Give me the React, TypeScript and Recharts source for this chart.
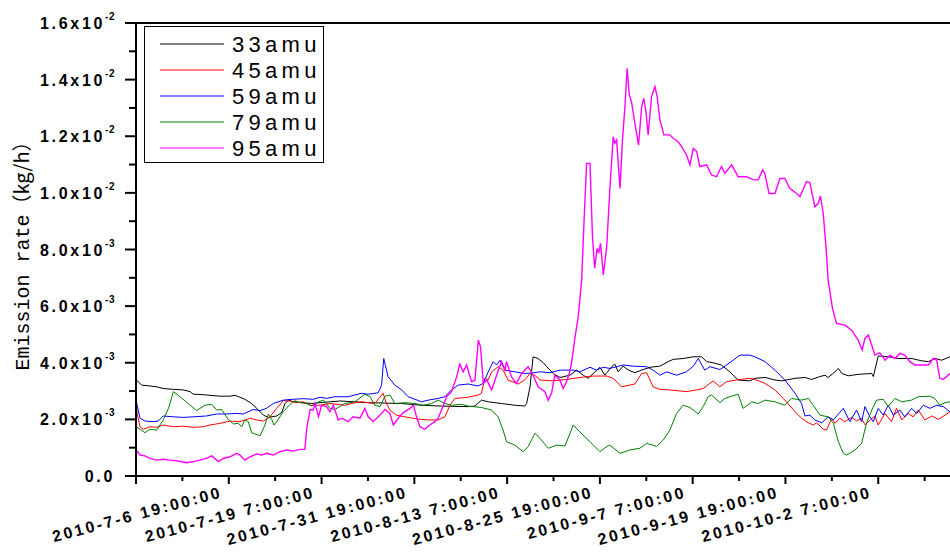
import React from 'react';
import { LineChart, Line, XAxis, YAxis, ReferenceLine } from 'recharts';

// x: hours since 2010-7-6 19:00:00 ; y: emission rate in units of 1e-3 kg/h
const xMajorHours = [0, 300, 600, 900, 1200, 1500, 1800, 2100, 2400];
const xLabels = [
  '2010-7-6 19:00:00',
  '2010-7-19 7:00:00',
  '2010-7-31 19:00:00',
  '2010-8-13 7:00:00',
  '2010-8-25 19:00:00',
  '2010-9-7 7:00:00',
  '2010-9-19 19:00:00',
  '2010-10-2 7:00:00',
  '',
];
const xTicks = [0, 150, 300, 450, 600, 750, 900, 1050, 1200, 1350, 1500, 1650, 1800, 1950, 2100, 2250, 2400, 2550];
const yTicksE3 = [0, 1, 2, 3, 4, 5, 6, 7, 8, 9, 10, 11, 12, 13, 14, 15, 16];
const yMantissa = ['0.0', '', '2.0', '', '4.0', '', '6.0', '', '8.0', '', '1.0', '', '1.2', '', '1.4', '', '1.6'];
const yExponent = ['', '', '-3', '', '-3', '', '-3', '', '-3', '', '-2', '', '-2', '', '-2', '', '-2'];

const seriesNames = ['33amu', '45amu', '59amu', '79amu', '95amu'];
const seriesColors = ['#000000', '#ff0000', '#0000ff', '#008000', '#ff00ff'];

const s33: [number, number][] = [
  [0,3.41],[18,3.21],[45,3.18],[67,3.15],[88,3.09],[121,3.06],[153,3.04],[175,2.98],[185,2.89],[207,2.88],[239,2.85],[272,2.82],[304,2.82],[320,2.85],[336,2.78],[352,2.71],[374,2.56],[396,2.33],[412,2.15],[428,2.07],[455,2.12],[471,2.24],[482,2.56],[493,2.68],[509,2.62],[541,2.59],[568,2.56],[595,2.59],[627,2.62],[660,2.65],[751,2.59],[859,2.56],[923,2.50],[988,2.47],[1074,2.45],[1096,2.47],[1117,2.68],[1139,2.62],[1182,2.56],[1225,2.50],[1257,2.47],[1263,2.56],[1274,3.15],[1284,4.21],[1300,4.15],[1317,4.00],[1328,3.86],[1349,3.62],[1371,3.48],[1403,3.56],[1425,3.74],[1446,3.56],[1462,3.45],[1484,3.68],[1500,3.84],[1516,3.56],[1538,3.86],[1548,3.95],[1559,3.68],[1575,3.88],[1592,3.74],[1613,3.65],[1635,3.74],[1662,3.84],[1694,3.88],[1721,4.04],[1737,4.12],[1769,4.15],[1802,4.21],[1829,4.21],[1845,4.04],[1866,4.00],[1893,3.92],[1920,3.68],[1947,3.39],[1985,3.36],[2001,3.45],[2034,3.48],[2066,3.39],[2088,3.36],[2131,3.45],[2163,3.48],[2185,3.41],[2211,3.51],[2228,3.56],[2238,3.48],[2260,3.68],[2271,3.80],[2282,3.62],[2303,3.54],[2335,3.59],[2379,3.62],[2384,3.51],[2400,4.24],[2432,4.21],[2465,4.15],[2508,4.15],[2540,4.07],[2562,4.04],[2583,4.15],[2605,4.09],[2632,4.21],
];

const s45: [number, number][] = [
  [0,2.56],[4,2.2],[13,1.74],[24,1.65],[45,1.74],[67,1.72],[88,1.80],[121,1.74],[153,1.76],[185,1.72],[218,1.74],[239,1.80],[272,1.86],[304,1.94],[336,1.92],[369,2.04],[390,1.98],[412,1.94],[433,2.09],[455,2.39],[476,2.66],[498,2.65],[519,2.59],[541,2.62],[563,2.50],[595,2.50],[627,2.56],[675,2.50],[708,2.59],[729,2.62],[772,2.56],[799,2.92],[810,2.56],[821,2.33],[842,2.15],[869,2.09],[912,2.01],[945,1.98],[977,1.98],[999,2.09],[1015,2.50],[1031,2.74],[1074,2.78],[1106,2.86],[1117,2.92],[1128,3.45],[1139,3.39],[1150,3.68],[1171,3.86],[1187,3.74],[1203,3.39],[1236,3.25],[1257,3.39],[1274,3.62],[1290,3.55],[1306,3.39],[1349,3.36],[1392,3.41],[1435,3.48],[1478,3.53],[1522,3.53],[1543,3.45],[1570,3.15],[1597,3.21],[1613,3.25],[1635,3.62],[1651,3.65],[1672,3.15],[1694,3.06],[1726,3.04],[1780,2.98],[1812,3.04],[1834,3.09],[1866,3.36],[1888,3.15],[1909,3.33],[1953,3.41],[1985,3.45],[2001,3.41],[2034,3.27],[2066,3.04],[2098,2.68],[2131,2.27],[2152,2.04],[2174,1.88],[2190,1.80],[2201,1.88],[2222,1.65],[2233,1.62],[2249,2.04],[2260,1.86],[2276,2.04],[2292,1.92],[2314,2.07],[2330,1.95],[2346,2.04],[2357,1.81],[2389,2.12],[2400,1.80],[2422,2.21],[2443,1.92],[2459,2.39],[2476,1.98],[2497,2.21],[2513,2.09],[2529,2.33],[2551,1.98],[2573,2.12],[2594,2.00],[2616,2.15],[2632,2.27],
];

const s59: [number, number][] = [
  [0,2.68],[13,2.04],[29,1.94],[56,1.92],[72,1.94],[88,2.12],[121,2.09],[153,2.07],[185,2.09],[228,2.12],[261,2.19],[293,2.19],[325,2.21],[347,2.19],[379,2.35],[401,2.31],[422,2.39],[444,2.56],[476,2.68],[509,2.71],[541,2.73],[573,2.71],[595,2.78],[616,2.74],[643,2.80],[686,2.80],[729,2.92],[751,2.89],[783,2.94],[794,3.2],[801,4.15],[815,3.51],[837,3.21],[859,3.04],[880,2.80],[902,2.71],[923,2.62],[945,2.68],[977,2.74],[999,2.80],[1020,3.04],[1042,3.21],[1074,3.25],[1106,3.18],[1123,3.27],[1139,3.68],[1155,4.04],[1166,3.92],[1177,4.09],[1193,3.74],[1225,3.68],[1257,3.62],[1290,3.65],[1306,3.68],[1338,3.65],[1371,3.74],[1414,3.74],[1435,3.68],[1468,3.84],[1489,3.74],[1511,3.84],[1532,3.80],[1575,3.92],[1608,3.88],[1651,3.86],[1672,3.74],[1694,3.56],[1716,3.68],[1748,3.56],[1780,3.68],[1802,3.88],[1818,4.15],[1839,3.74],[1856,3.86],[1888,3.76],[1909,3.92],[1931,4.09],[1953,4.27],[1985,4.27],[2001,4.21],[2034,4.04],[2066,3.74],[2098,3.39],[2131,2.92],[2152,2.56],[2163,2.12],[2179,2.15],[2195,1.98],[2217,1.88],[2238,2.09],[2255,1.98],[2287,2.39],[2308,1.92],[2330,2.33],[2346,1.92],[2357,2.45],[2373,2.09],[2384,1.92],[2400,2.39],[2416,2.15],[2432,2.50],[2449,2.15],[2470,2.33],[2486,2.09],[2508,2.39],[2524,2.21],[2546,2.50],[2567,2.39],[2589,2.50],[2610,2.45],[2632,2.27],
];

const s79: [number, number][] = [
  [0,1.74],[13,1.65],[29,1.53],[45,1.65],[67,1.62],[88,1.98],[105,2.39],[121,2.98],[142,2.80],[169,2.56],[196,2.31],[223,2.50],[245,2.53],[261,2.33],[277,2.35],[299,1.98],[315,1.84],[331,1.86],[342,1.74],[352,1.98],[363,1.92],[374,1.53],[396,1.44],[401,1.42],[417,1.80],[428,2.19],[439,2.00],[446,1.80],[455,1.92],[476,2.27],[498,2.53],[514,2.66],[530,2.59],[552,2.56],[568,2.47],[590,2.62],[606,2.68],[627,2.39],[643,2.35],[675,2.56],[708,2.62],[740,2.89],[757,2.80],[772,2.50],[789,2.45],[805,2.82],[821,2.86],[837,2.56],[869,2.59],[902,2.56],[929,2.50],[956,2.56],[977,2.68],[999,2.56],[1020,2.50],[1053,2.53],[1074,2.47],[1117,2.42],[1150,2.33],[1171,2.09],[1187,1.62],[1198,1.21],[1225,1.09],[1252,0.86],[1268,1.04],[1290,1.51],[1306,1.33],[1333,0.98],[1360,1.09],[1387,1.06],[1414,1.80],[1435,1.56],[1468,1.21],[1500,0.86],[1522,1.04],[1532,1.09],[1565,0.80],[1597,0.92],[1629,0.98],[1651,1.15],[1672,1.09],[1683,1.04],[1705,1.27],[1726,1.62],[1748,2.21],[1769,2.50],[1791,2.42],[1818,2.19],[1834,2.45],[1850,2.80],[1861,2.86],[1888,2.59],[1904,2.74],[1926,2.82],[1947,2.89],[1963,2.39],[1985,2.56],[1991,2.62],[2012,2.56],[2034,2.68],[2066,2.62],[2098,2.50],[2120,2.74],[2152,2.68],[2174,2.74],[2190,2.50],[2211,2.15],[2238,2.09],[2255,1.86],[2271,1.21],[2287,0.80],[2298,0.74],[2325,0.92],[2346,1.15],[2362,1.86],[2379,2.33],[2395,2.68],[2416,2.71],[2432,2.45],[2454,2.74],[2476,2.62],[2508,2.68],[2529,2.80],[2567,2.82],[2583,2.74],[2599,2.50],[2616,2.59],[2632,2.62],
];

const s95: [number, number][] = [
  [0,0.92],[13,0.74],[29,0.71],[45,0.62],[67,0.56],[88,0.59],[110,0.56],[131,0.54],[164,0.47],[185,0.51],[207,0.56],[228,0.62],[245,0.71],[255,0.62],[266,0.51],[282,0.62],[304,0.68],[325,0.80],[336,0.74],[352,0.56],[369,0.68],[390,0.78],[406,0.74],[422,0.80],[444,0.74],[466,0.86],[487,0.92],[509,0.88],[530,0.94],[546,0.94],[552,1.68],[563,2.35],[573,2.33],[579,2.56],[590,2.09],[600,2.50],[616,2.45],[627,2.27],[638,2.50],[654,1.98],[665,2.04],[686,1.92],[702,2.09],[724,2.04],[740,2.39],[751,2.09],[767,1.92],[789,2.15],[805,2.35],[821,2.21],[832,1.80],[848,2.04],[864,2.24],[886,2.39],[897,2.50],[907,2.09],[918,1.74],[934,1.65],[950,1.80],[967,1.92],[977,2.04],[994,2.50],[1004,2.80],[1020,2.98],[1037,3.51],[1047,3.95],[1058,3.68],[1069,3.92],[1085,3.33],[1096,3.39],[1107,4.80],[1114,4.56],[1123,3.27],[1134,3.39],[1150,3.04],[1166,3.56],[1182,4.04],[1193,3.74],[1198,4.04],[1214,3.51],[1230,3.27],[1247,3.62],[1268,3.86],[1284,3.56],[1300,3.15],[1322,2.98],[1333,2.68],[1344,2.94],[1354,3.56],[1371,3.39],[1381,3.09],[1392,3.33],[1401,3.62],[1408,3.98],[1419,4.86],[1430,5.63],[1441,6.92],[1448,8.81],[1457,11.04],[1468,11.04],[1476,8.45],[1483,7.34],[1491,8.04],[1496,7.87],[1502,8.22],[1511,7.10],[1522,8.10],[1532,10.10],[1543,11.99],[1548,11.75],[1554,11.87],[1565,10.16],[1573,11.87],[1581,13.05],[1588,14.40],[1595,13.46],[1602,13.22],[1613,12.46],[1625,11.69],[1635,13.05],[1642,13.34],[1649,12.87],[1656,12.05],[1667,13.40],[1678,13.75],[1685,13.40],[1694,12.58],[1707,12.05],[1726,12.05],[1737,11.93],[1753,11.81],[1764,11.63],[1780,11.34],[1791,10.99],[1802,11.57],[1813,11.46],[1823,10.93],[1845,10.99],[1861,10.63],[1877,10.57],[1893,10.93],[1904,10.69],[1926,10.99],[1947,10.57],[1974,10.57],[1996,10.46],[2012,10.46],[2026,10.81],[2033,10.69],[2047,9.98],[2066,9.98],[2082,10.51],[2098,10.51],[2114,10.16],[2136,9.98],[2147,9.87],[2168,10.40],[2179,10.36],[2195,9.51],[2206,9.63],[2213,9.89],[2222,9.28],[2231,8.10],[2238,6.92],[2252,5.92],[2265,5.39],[2292,5.33],[2314,5.15],[2335,4.80],[2348,4.45],[2357,4.86],[2368,4.98],[2379,4.62],[2389,4.27],[2405,4.35],[2422,4.09],[2438,4.27],[2454,4.15],[2470,4.33],[2486,4.27],[2502,4.04],[2519,3.92],[2540,3.92],[2562,3.92],[2578,4.15],[2589,4.09],[2599,3.45],[2610,3.41],[2632,3.62],
];

const toData = (s: [number, number][]) => s.map(([h, v]) => ({ h, v: v / 1000 }));
const seriesData = [s33, s45, s59, s79, s95].map(toData);

const XTick = (props: any) => {
  const { x, y, payload } = props;
  const h = payload.value as number;
  const idx = xMajorHours.indexOf(h);
  const major = idx >= 0;
  const label = major ? xLabels[idx] : '';
  const ax = x + 87;
  const ay = y + 21;
  return (
    <g>
      <line x1={x} y1={y} x2={x} y2={y + (major ? 8 : 5)} stroke="#000" strokeWidth={2} />
      {label ? (
        <text
          x={ax}
          y={ay}
          textAnchor="end"
          transform={`rotate(-15, ${ax}, ${ay})`}
          fontFamily="Liberation Sans, Arial, sans-serif"
          fontWeight="bold"
          fontSize={16}
          letterSpacing={2.5}
          fill="#000"
        >
          {label}
        </text>
      ) : null}
    </g>
  );
};

const YTick = (props: any) => {
  const { x, y, payload } = props;
  const k = Math.round((payload.value as number) * 1000);
  const idx = yTicksE3.indexOf(k);
  const major = idx % 2 === 0;
  const m = yMantissa[idx] || '';
  const e = yExponent[idx] || '';
  return (
    <g>
      <line x1={x - (major ? 11 : 7)} y1={y} x2={x} y2={y} stroke="#000" strokeWidth={2} />
      {m ? (
        <text
          x={x - 21}
          y={y + 6}
          textAnchor="end"
          fontFamily="Liberation Sans, Arial, sans-serif"
          fontWeight="bold"
          fontSize={16}
          letterSpacing={2.7}
          fill="#000"
        >
          {m}
          {e ? 'x10' : ''}
          {e ? (
            <tspan dy={-9} fontSize={10} letterSpacing={0.5}>
              {e}
            </tspan>
          ) : null}
        </text>
      ) : null}
    </g>
  );
};

export default function App() {
  return (
    <div style={{ position: 'fixed', left: 0, top: 0, width: 950, height: 553, overflow: 'hidden', background: '#fff' }}>
      <LineChart width={950} height={553} margin={{ top: 23, right: 0, left: 0, bottom: 17 }}>
        <XAxis
          dataKey="h"
          type="number"
          domain={[0, 2632]}
          allowDataOverflow
          ticks={xTicks}
          interval={0}
          tick={XTick}
          tickLine={false}
          tickSize={0}
          tickMargin={0}
          axisLine={{ stroke: '#000', strokeWidth: 2 }}
          height={60}
        />
        <YAxis
          type="number"
          domain={[0, 0.016]}
          allowDataOverflow
          ticks={yTicksE3.map((k) => k / 1000)}
          interval={0}
          tick={YTick}
          tickLine={false}
          tickSize={0}
          tickMargin={0}
          axisLine={{ stroke: '#000', strokeWidth: 2 }}
          width={136}
        />
        <ReferenceLine y={0.016} stroke="#000" strokeWidth={2} />
        {seriesData.map((d, i) => (
          <Line
            key={seriesNames[i]}
            data={d}
            dataKey="v"
            name={seriesNames[i]}
            type="linear"
            dot={false}
            activeDot={false}
            stroke={seriesColors[i]}
            strokeWidth={i === 4 ? 1.4 : 1}
            isAnimationActive={false}
          />
        ))}
      </LineChart>
      <svg width={950} height={553} style={{ position: 'absolute', left: 0, top: 0, pointerEvents: 'none' }}>
        <text
          transform="translate(29, 251) rotate(-90)"
          textAnchor="middle"
          fontFamily="Liberation Mono, monospace"
          fontSize={20}
          fill="#000"
        >
          Emission rate
          <tspan fontFamily="Noto Sans CJK SC, sans-serif">（kg/h）</tspan>
        </text>
        <rect x={144.5} y={26.5} width={179} height={136} fill="#fff" stroke="#000" strokeWidth={1} />
        {seriesNames.map((n, i) => (
          <g key={n}>
            <line x1={160} x2={224} y1={44 + i * 26} y2={44 + i * 26} stroke={seriesColors[i]} strokeWidth={1} />
            <text
              x={232}
              y={52 + i * 26}
              fontFamily="Liberation Sans, Arial, sans-serif"
              fontSize={22}
              letterSpacing={4.3}
              fill="#000"
            >
              {n}
            </text>
          </g>
        ))}
      </svg>
    </div>
  );
}
